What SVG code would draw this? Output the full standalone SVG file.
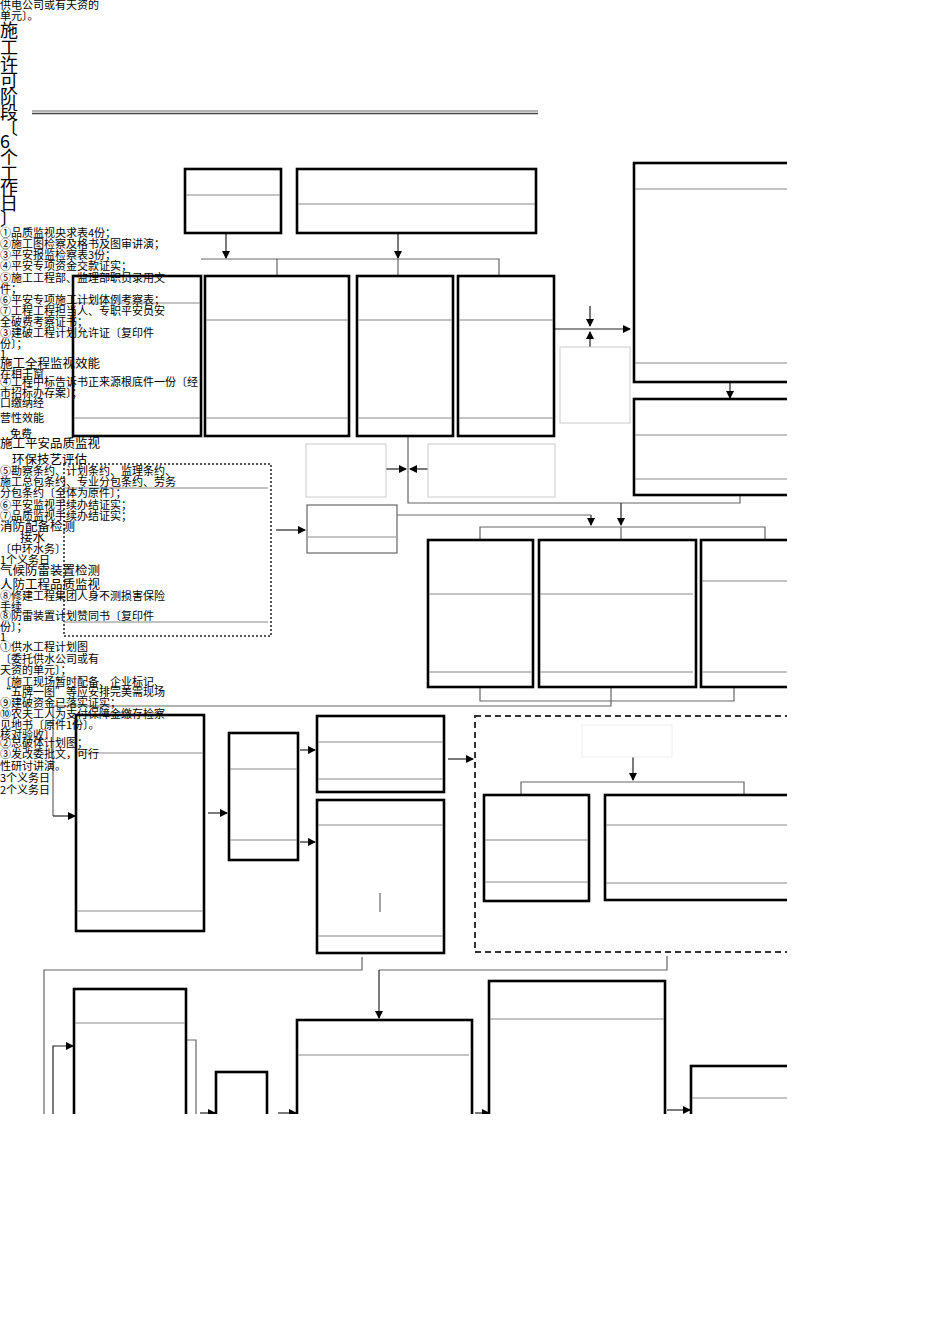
<svg xmlns="http://www.w3.org/2000/svg" width="950" height="1343" viewBox="0 0 950 1343">
<style>
.b{fill:#fff;stroke:#000;stroke-width:2.6}
.f{fill:#fff;stroke:#ccc;stroke-width:1}
.d{stroke:#888;stroke-width:1.2;fill:none}
.c{stroke:#666;stroke-width:1.2;fill:none}
.a{stroke:#222;stroke-width:1.2;fill:none;marker-end:url(#ar)}
text{font-family:"Noto Sans CJK SC","Liberation Sans",sans-serif;font-size:11px;fill:#000}
.big{font-size:12.5px}
.v{font-size:18px}
</style>
<defs>
<marker id="ar" markerWidth="8" markerHeight="8" refX="7" refY="4" orient="auto" markerUnits="userSpaceOnUse"><path d="M0,0 L8,4 L0,8 z" fill="#000"/></marker>
<clipPath id="cp"><rect x="0" y="0" width="787" height="1114"/></clipPath>
</defs>
<rect width="950" height="1343" fill="#fff"/>
<g clip-path="url(#cp)">
<line x1="32" y1="111" x2="538" y2="111" stroke="#666" stroke-width="1.2"/>
<line x1="32" y1="113.5" x2="538" y2="113.5" stroke="#444" stroke-width="1.6"/>
<g id="connectors">
<path class="a" d="M226,233 V258"/>
<path class="a" d="M398,233 V258"/>
<path class="c" d="M277,276 V259 H499 V276 M398,259 V276"/>
<path class="c" d="M201,259 H277"/>
<path class="a" d="M554,329 H630"/>
<path class="a" d="M590,306 V326"/>
<path class="a" d="M590,351 V332"/>
<path class="a" d="M730,382 V398"/>
<path class="c" d="M408,436 V503 H740 V495"/>
<path class="a" d="M386,469 H406"/>
<path class="a" d="M428,469 H410"/>
<path class="c" d="M397,515 H591"/><path class="a" d="M591,515 V525"/>
<path class="a" d="M621,503 V525"/>
<path class="c" d="M480,540 V527 H765 V540 M621,527 V540"/>
<path class="a" d="M276,530 H305"/>
<path class="c" d="M480,687 V701 H734 V687 M611,687 V706 H53 V816"/>
<path class="a" d="M53,816 H75"/>
<path class="a" d="M208,813 H227"/>
<path class="a" d="M300,750 H315"/>
<path class="a" d="M300,842 H315"/>
<path class="a" d="M448,759 H473"/>
<path class="a" d="M633,756 V780"/>
<path class="c" d="M521,796 V782 H744 V796"/>
<path class="c" d="M362,957 V970 H44 V1114"/>
<path class="c" d="M667,956 V970 H379"/><path class="a" d="M379,970 V1018"/>
<path class="a" d="M53,1114 V1046 H73"/>
<path class="c" d="M186,1040 H196 V1114"/>
<path class="a" d="M200,1113 H215"/>
<path class="a" d="M278,1113 H296"/>
<path class="a" d="M475,1113 H489"/>
<path class="a" d="M667,1110 H690"/>
</g>
<rect x="64" y="464" width="207" height="172" fill="none" stroke="#555" stroke-width="2" stroke-dasharray="2,2"/>
<path class="d" d="M64,488 H268 M64,622 H268"/>
<rect x="475" y="716" width="340" height="236" fill="none" stroke="#333" stroke-width="2" stroke-dasharray="6,4"/>
<g id="nA"><rect class="b" x="185" y="169" width="96" height="64"/><path class="d" d="M186,195 H280"/></g>
<g id="nB"><rect class="b" x="297" y="169" width="239" height="64"/><path class="d" d="M298,204 H535"/></g>
<g id="nC"><rect class="b" x="73" y="276" width="128" height="160"/><path class="d" d="M74,303 H200"/><path class="d" d="M74,418 H200" stroke="#000"/></g>
<g id="nD"><rect class="b" x="205" y="276" width="144" height="160"/><path class="d" d="M206,320 H348 M206,418 H348"/></g>
<g id="nE"><rect class="b" x="357" y="276" width="96" height="160"/><path class="d" d="M358,320 H452 M358,418 H452"/></g>
<g id="nF"><rect class="b" x="458" y="276" width="96" height="160"/><path class="d" d="M459,320 H553 M459,418 H553"/></g>
<g id="nG"><rect class="b" x="634" y="163" width="200" height="219"/><path class="d" d="M635,189 H834 M635,363 H834"/></g>
<g id="nH"><rect class="b" x="634" y="399" width="200" height="96"/><path class="d" d="M635,435 H834 M635,479 H834"/></g>
<g id="nS1"><rect class="f" x="560" y="347" width="70" height="76"/></g>
<g id="nS2"><rect class="f" x="306" y="444" width="80" height="53"/></g>
<g id="nS3"><rect class="f" x="428" y="444" width="127" height="53"/></g>
<g id="nI"><rect x="307" y="505" width="90" height="48" fill="#fff" stroke="#666" stroke-width="1.2"/><path class="d" d="M308,537 H396"/></g>
<g id="nJ"><rect class="b" x="428" y="540" width="105" height="147"/><path class="d" d="M429,594 H532 M429,672 H532"/></g>
<g id="nK"><rect class="b" x="539" y="540" width="157" height="147"/><path class="d" d="M540,594 H693 M540,672 H693"/></g>
<g id="nL"><rect class="b" x="701" y="540" width="130" height="147"/><path class="d" d="M702,581 H830 M702,672 H830"/></g>
<g id="nM"><rect class="b" x="76" y="715" width="128" height="216"/><path class="d" d="M77,753 H203 M77,911 H203"/></g>
<g id="nN"><rect class="b" x="229" y="733" width="69" height="127"/><path class="d" d="M230,769 H297 M230,840 H297"/></g>
<g id="nO"><rect class="b" x="317" y="716" width="127" height="76"/><path class="d" d="M318,742 H443 M318,779 H443"/></g>
<g id="nP"><rect class="b" x="317" y="800" width="127" height="153"/><path class="d" d="M318,825 H443 M318,936 H443"/><path class="c" d="M380,893 V912"/></g>
<g id="nS4"><rect x="582" y="725" width="90" height="32" fill="#fff" stroke="#eee" stroke-width="1"/></g>
<g id="nQ"><rect class="b" x="484" y="795" width="105" height="106"/><path class="d" d="M485,840 H588 M485,882 H588"/></g>
<g id="nR"><rect class="b" x="605" y="795" width="220" height="105"/><path class="d" d="M606,825 H825 M606,883 H825"/></g>
<g id="nS"><rect class="b" x="74" y="989" width="112" height="140"/><path class="d" d="M75,1023 H185"/></g>
<g id="nT"><rect class="b" x="216" y="1072" width="51" height="60"/></g>
<g id="nU"><rect class="b" x="297" y="1020" width="175" height="110"/><path class="d" d="M298,1055 H469"/></g>
<g id="nV"><rect class="b" x="489" y="981" width="176" height="150"/><path class="d" d="M490,1019 H664"/></g>
<g id="nW"><rect class="b" x="691" y="1066" width="140" height="60"/><path class="d" d="M692,1098 H830"/></g>
</g>
<g id="texts">
<text x="0" y="9">供电公司或有天资的</text>
<text x="0" y="20">单元〕。</text>
<text class="v" x="0" y="37">施</text><text class="v" x="0" y="54">工</text><text class="v" x="0" y="71">许</text><text class="v" x="0" y="87">可</text><text class="v" x="0" y="103">阶</text><text class="v" x="0" y="119">段</text><text class="v" x="0" y="134">〔</text><text class="v" x="0" y="148">6</text><text class="v" x="0" y="164">个</text><text class="v" x="0" y="180">工</text><text class="v" x="0" y="195">作</text><text class="v" x="0" y="210">日</text><text class="v" x="0" y="225">〕</text>
<text x="0" y="237">①品质监视央求表4份；</text>
<text x="0" y="248">②施工图检察及格书及图审讲演；</text>
<text x="0" y="259">③平安报监检察表3份；</text>
<text x="0" y="270">④平安专项资金交款证实；</text>
<text x="0" y="282">⑤施工工程部、监理部职员录用文</text>
<text x="0" y="293">件；</text>
<text x="0" y="304">⑥平安专项施工计划体例考察表；</text>
<text x="0" y="315">⑦工程工程担当人、专职平安员安</text>
<text x="0" y="326">全破费考察证书；</text>
<text x="0" y="337">③建破工程计划允许证〔复印件</text>
<text x="0" y="348">份〕；</text>
<text x="0" y="358">1</text>
<text class="big" x="0" y="368">施工全程监视效能</text>
<text x="0" y="378">在相干窗</text>
<text x="0" y="386">④工程中标告诉书正来源根底件一份〔经</text>
<text x="0" y="397">市招标办存案〕；</text>
<text x="0" y="407">口缴纳经</text>
<text x="0" y="422">营性效能</text>
<text x="10" y="438">免费</text>
<text class="big" x="0" y="448">施工平安品质监视</text>
<text class="big" x="12" y="464">环保技艺评估</text>
<text x="0" y="475">⑤勘察条约、计划条约、监理条约、</text>
<text x="0" y="486">施工总包条约、专业分包条约、劳务</text>
<text x="0" y="497">分包条约〔全体为原件〕；</text>
<text x="0" y="509">⑥平安监视手续办结证实；</text>
<text x="0" y="520">⑦品质监视手续办结证实；</text>
<text class="big" x="0" y="531">消防配备检测</text>
<text class="big" x="20" y="542">接水</text>
<text x="0" y="553">〔中环水务〕</text>
<text x="0" y="564">1个义务日</text>
<text class="big" x="0" y="575">气候防雷装置检测</text>
<text class="big" x="0" y="589">人防工程品质监视</text>
<text x="0" y="600">⑧修建工程集团人身不测损害保险</text>
<text x="0" y="611">手续</text>
<text x="0" y="620">⑧防雷装置计划赞同书〔复印件</text>
<text x="0" y="631">份〕；</text>
<text x="0" y="641">1</text>
<text x="0" y="651">①供水工程计划图</text>
<text x="0" y="663">〔委托供水公司或有</text>
<text x="0" y="674">天资的单元〕；</text>
<text x="0" y="686">〔施工现场暂时配备、企业标记、</text>
<text x="0" y="696">“五牌一图”等应安排完美需现场</text>
<text x="0" y="707">⑨建破资金已落实证实；</text>
<text x="0" y="718">⑩农夫工人为支付保障金缴存检察</text>
<text x="0" y="729">见地书〔原件1份〕。</text>
<text x="0" y="739">核对验收〕</text>
<text x="0" y="747">②总破体计划图；</text>
<text x="0" y="758">③发改委批文，可行</text>
<text x="0" y="770">性研讨讲演。</text>
<text x="0" y="782">3个义务日</text>
<text x="0" y="794">2个义务日</text>
</g>
</svg>
